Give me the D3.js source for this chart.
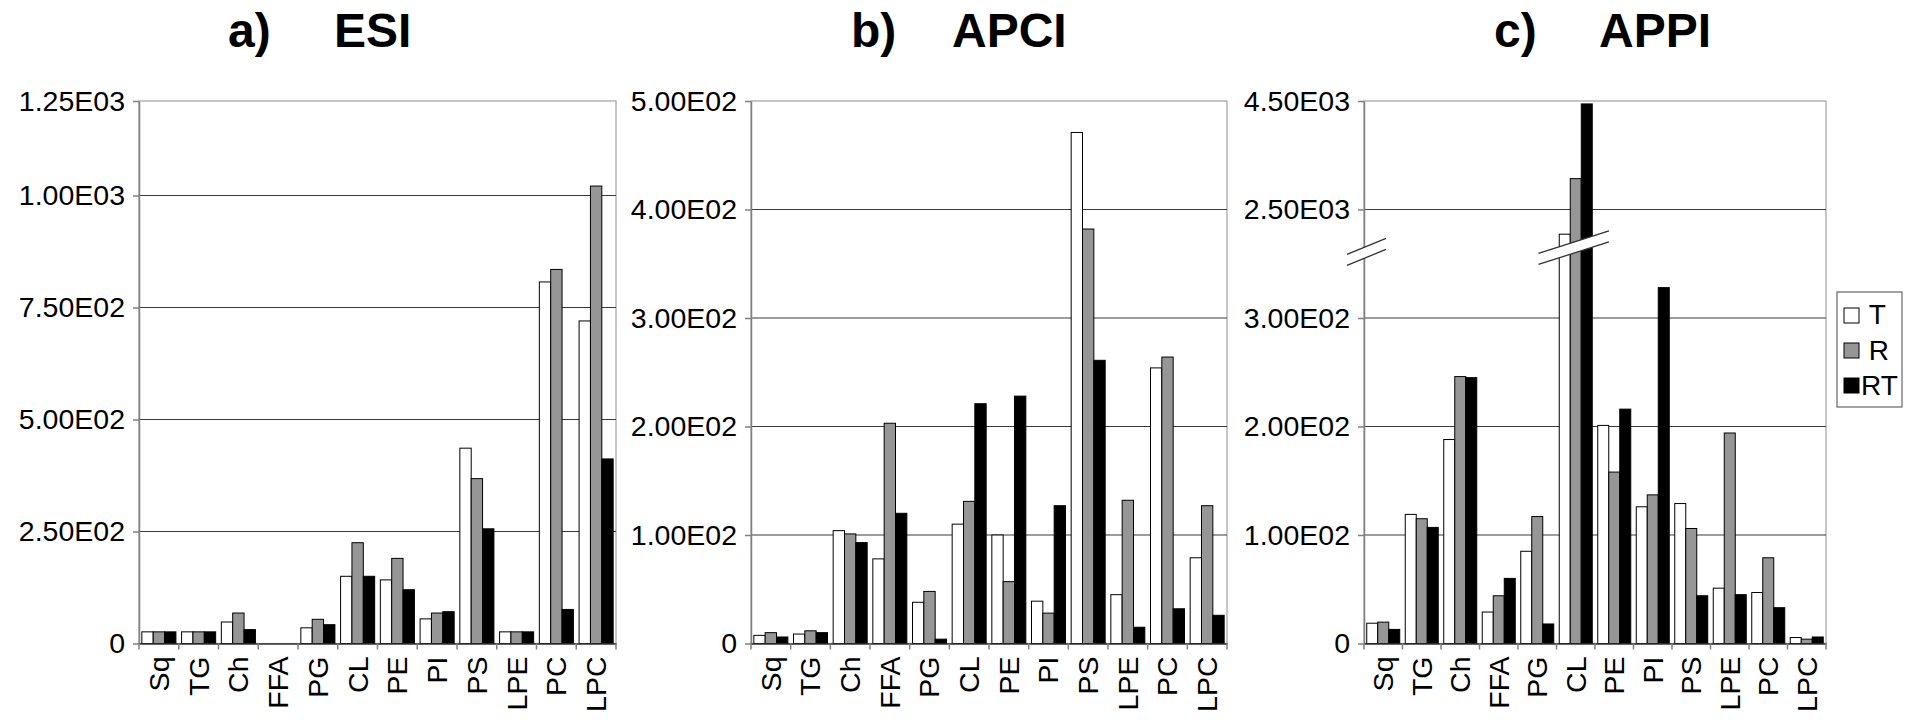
<!DOCTYPE html>
<html><head><meta charset="utf-8">
<script src="https://cdn.jsdelivr.net/npm/d3@7"></script>
<style>
body{margin:0;background:#fff;}
svg text{font-family:"Liberation Sans",Arial,sans-serif;fill:#000;}
</style></head><body>
<svg id="chart" width="1910" height="720"></svg>
<script>
// ---------- data ----------
const categories = ["Sq","TG","Ch","FFA","PG","CL","PE","PI","PS","LPE","PC","LPC"];
const seriesNames = ["T","R","RT"];
const seriesFill = ["#ffffff","#969696","#000000"];

const esiT  = [26, 26, 48, 0, 35, 150, 142, 55, 436, 26, 807, 720];
const esiR  = [26, 26, 68, 0, 54, 225, 190, 68, 368, 26, 835, 1025];
const esiRT = [26, 26, 31, 0, 42, 150, 120, 71, 256, 26, 76, 412];

const apciT  = [7.5, 8.7, 104, 78, 38, 110, 100, 39, 471, 45, 254, 79];
const apciR  = [10, 11.7, 101, 203, 48, 131, 57, 28, 382, 132, 264, 127];
const apciRT = [6, 10, 93, 120, 4, 221, 228, 127, 261, 15, 32, 26];

const appiT  = [18.7, 119, 188, 29, 85, 2045, 201, 126, 129, 51, 47, 5.5];
const appiR  = [19.7, 115, 246, 44, 117, 3069, 158, 137, 106, 194, 79, 4];
const appiRT = [13, 107, 245, 60, 18, 4446, 216, 328, 44, 45, 33, 6];

const esiTicks  = [0, 250, 500, 750, 1000, 1250];
const esiTickLabels  = ["0","2.50E02","5.00E02","7.50E02","1.00E03","1.25E03"];
const apciTicks = [0, 100, 200, 300, 400, 500];
const apciTickLabels = ["0","1.00E02","2.00E02","3.00E02","4.00E02","5.00E02"];
const appiTicks = [0, 100, 200, 300, 2500, 4500];
const appiTickLabels = ["0","1.00E02","2.00E02","3.00E02","2.50E03","4.50E03"];
// broken APPI axis: lower segment ends and upper segment starts at the break
const appiBreak = [360, 1700];

const titleLetters = ["a)","b)","c)"];
const titleNames = ["ESI","APCI","APPI"];
const legendText = ["\u00A0T","\u00A0R","RT"];

// ---------- layout ----------
const svg = d3.select("#chart");
const plotTop = 101, base = 643.5;
const unit = (base - plotTop) / 5;
const panels = [
  {x0:139, x1:616, series:[esiT,esiR,esiRT], ticks:esiTicks, labels:esiTickLabels,
   y: d3.scaleLinear().domain([0,1000,1250]).range([base,195.5,plotTop]),
   tx:[228,334]},
  {x0:751, x1:1227, series:[apciT,apciR,apciRT], ticks:apciTicks, labels:apciTickLabels,
   y: d3.scaleLinear().domain([0,500]).range([base,plotTop]),
   tx:[851,952]},
  {x0:1364, x1:1826, series:[appiT,appiR,appiRT], ticks:appiTicks, labels:appiTickLabels,
   y: (() => {
     const yb = base - appiBreak[0] / 100 * unit;
     return d3.scaleLinear()
       .domain([0, appiBreak[0], appiBreak[1], 4500])
       .range([base, yb, yb, plotTop]);
   })(),
   tx:[1494,1599], broken:true}
];

panels.forEach((p, pi) => {
  const g = svg.append("g");
  const x = d3.scaleBand().domain(categories).range([p.x0, p.x1]);
  const bw = x.bandwidth();
  const xs = d3.scaleBand().domain(seriesNames).range([bw*0.25/3.5, bw*3.25/3.5]);

  // plot border
  g.append("rect").attr("x", p.x0).attr("y", plotTop).attr("width", p.x1-p.x0).attr("height", base-plotTop)
    .attr("fill","none").attr("stroke","#a0a0a0").attr("stroke-width",1.2);

  // gridlines
  g.selectAll(".grid").data(p.ticks.slice(1, -1)).enter().append("line")
    .attr("x1", p.x0).attr("x2", p.x1)
    .attr("y1", d => p.y(d)).attr("y2", d => p.y(d))
    .attr("stroke","#3a3a3a").attr("stroke-width",1.2);

  // left axis
  const yAxis = d3.axisLeft(p.y).tickValues(p.ticks)
    .tickFormat((d,i) => p.labels[i]).tickSizeInner(6).tickSizeOuter(0).tickPadding(8);
  const ya = g.append("g").attr("transform", `translate(${p.x0},0)`).call(yAxis);
  ya.select(".domain").attr("stroke","#808080").attr("stroke-width",1.5);
  ya.selectAll(".tick line").attr("stroke","#808080").attr("stroke-width",1.5);
  ya.selectAll(".tick text").attr("font-size",28.5).attr("font-family","Liberation Sans, Arial, sans-serif");

  // bars
  categories.forEach((c, ci) => {
    seriesNames.forEach((s, si) => {
      const v = p.series[si][ci];
      if (!(v > 0)) return;
      g.append("rect")
        .attr("x", x(c) + xs(s)).attr("width", xs.bandwidth())
        .attr("y", p.y(v)).attr("height", base - p.y(v))
        .attr("fill", seriesFill[si]).attr("stroke","#000").attr("stroke-width",1);
    });
  });

  // bottom axis
  const xAxis = d3.axisBottom(x).tickSize(0).tickFormat(d => d);
  const xa = g.append("g").attr("transform", `translate(0,${base})`).call(xAxis);
  xa.select(".domain").attr("stroke","#333").attr("stroke-width",1.5);
  xa.selectAll(".tick text")
    .attr("font-size",28.5).attr("font-family","Liberation Sans, Arial, sans-serif")
    .attr("text-anchor","end")
    .attr("transform","rotate(-90)")
    .attr("x",-13).attr("y",0).attr("dy","0.35em");
  const bounds = categories.map(c => x(c)).concat([p.x1]);
  g.selectAll(".sep").data(bounds).enter().append("line")
    .attr("x1", d => d).attr("x2", d => d)
    .attr("y1", base).attr("y2", base + 6)
    .attr("stroke","#808080").attr("stroke-width",1.5);

  // title
  svg.append("text").attr("x", p.tx[0]).attr("y", 47).attr("font-size",48).attr("font-weight","bold").text(titleLetters[pi]);
  svg.append("text").attr("x", p.tx[1]).attr("y", 47).attr("font-size",48).attr("font-weight","bold").text(titleNames[pi]);

  // axis break marks
  if (p.broken) {
    const drawBreak = (xa0, xa1, yc0, yc1) => {
      const gap = 11;
      g.append("polygon")
        .attr("points", `${xa0},${yc0-gap/2} ${xa1},${yc1-gap/2} ${xa1},${yc1+gap/2} ${xa0},${yc0+gap/2}`)
        .attr("fill","#fff");
      [-gap/2, gap/2].forEach(o => g.append("line")
        .attr("x1", xa0).attr("y1", yc0+o).attr("x2", xa1).attr("y2", yc1+o)
        .attr("stroke","#333").attr("stroke-width",1.3));
    };
    const yb = p.y(appiBreak[0]);
    drawBreak(p.x0 - 17, p.x0 + 22, yb + 7, yb - 9);
    const cl = x("CL");
    drawBreak(cl - 18, cl + bw + 14, yb + 6, yb - 16.5);
  }
});

// legend
const lg = svg.append("g");
lg.append("rect").attr("x",1837).attr("y",292).attr("width",65).attr("height",115)
  .attr("fill","#fff").attr("stroke","#666").attr("stroke-width",1.2);
seriesNames.forEach((s, i) => {
  lg.append("rect").attr("x",1844).attr("y",308 + i*35).attr("width",15).attr("height",15)
    .attr("fill",seriesFill[i]).attr("stroke","#000").attr("stroke-width",1);
  lg.append("text").attr("x",1861).attr("y",324 + i*35.5).attr("font-size",28)
    .text(legendText[i]);
});
</script>
</body></html>
